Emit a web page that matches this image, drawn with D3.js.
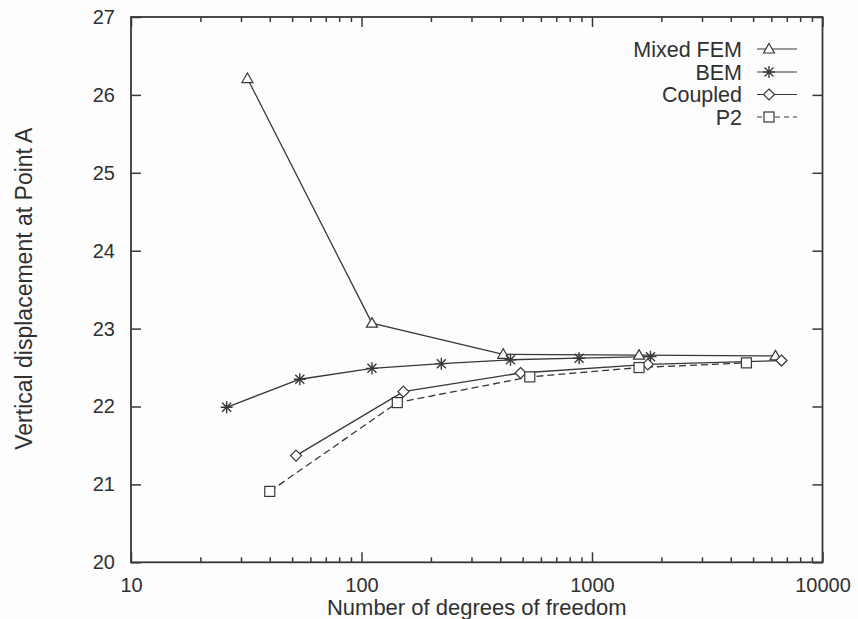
<!DOCTYPE html>
<html>
<head>
<meta charset="utf-8">
<script src="https://cdn.jsdelivr.net/npm/d3@7"></script>
<style>
  html, body { margin: 0; padding: 0; background: #fdfdfd; }
  svg { display: block; }
  text { font-family: "Liberation Sans", Arial, Helvetica, sans-serif; fill: #303030; }
</style>
</head>
<body>
<svg id="chart" width="858" height="619"></svg>
<script>
// ---- data ----
const seriesNames = ["Mixed FEM", "BEM", "Coupled", "P2"];
const mixedFemX = [32, 111, 412, 1600, 6250];
const mixedFemY = [26.21, 23.07, 22.67, 22.66, 22.65];
const bemX = [26, 54, 111, 222, 443, 879, 1794];
const bemY = [21.99, 22.35, 22.49, 22.55, 22.60, 22.62, 22.64];
const coupledX = [52, 152, 490, 1746, 6637];
const coupledY = [21.37, 22.19, 22.43, 22.54, 22.59];
const p2X = [40, 143, 537, 1600, 4677];
const p2Y = [20.91, 22.05, 22.38, 22.50, 22.56];
const xTickValues = [10, 100, 1000, 10000];
const yTickValues = [20, 21, 22, 23, 24, 25, 26, 27];
const xTitle = "Number of degrees of freedom";
const yTitle = "Vertical displacement at Point A";

// ---- layout ----
const svg = d3.select("#chart");
const mLeft = 131, mTop = 17, mRight = 822.5, mBottom = 562.3;
const ink = "#383838";

const x = d3.scaleLog().domain([10, 10000]).range([mLeft, mRight]);
const y = d3.scaleLinear().domain([20, 27]).range([mBottom, mTop]);

const series = [
  { name: seriesNames[0], xs: mixedFemX, ys: mixedFemY, marker: "triangle", dash: null },
  { name: seriesNames[1], xs: bemX, ys: bemY, marker: "star", dash: null },
  { name: seriesNames[2], xs: coupledX, ys: coupledY, marker: "diamond", dash: null },
  { name: seriesNames[3], xs: p2X, ys: p2Y, marker: "square", dash: "7,4" }
];

// minor ticks
const minorX = [];
for (let d = 10; d < 10000; d *= 10) for (let k = 2; k <= 9; k++) minorX.push(d * k);

// axes (ticks inward)
const axB = d3.axisBottom(x).tickValues(xTickValues).tickFormat(d3.format("d")).tickSizeInner(-10).tickSizeOuter(0).tickPadding(15.5);
const axT = d3.axisTop(x).tickValues(xTickValues).tickFormat("").tickSizeInner(-10).tickSizeOuter(0);
const axBm = d3.axisBottom(x).tickValues(minorX).tickFormat("").tickSizeInner(-5).tickSizeOuter(0);
const axTm = d3.axisTop(x).tickValues(minorX).tickFormat("").tickSizeInner(-5).tickSizeOuter(0);
const axL = d3.axisLeft(y).tickValues(yTickValues).tickFormat(d3.format("d")).tickSizeInner(-10).tickSizeOuter(0).tickPadding(16);
const axR = d3.axisRight(y).tickValues(yTickValues).tickFormat("").tickSizeInner(-10).tickSizeOuter(0);

function styleAxis(g) {
  g.select(".domain").remove();
  g.selectAll("line").attr("stroke", ink).attr("stroke-width", 1.5);
  g.selectAll("text").attr("font-size", 20).attr("fill", "#303030")
    .style("font-family", '"Liberation Sans", Arial, sans-serif');
}
svg.append("g").attr("transform", `translate(0,${mBottom})`).call(axB).call(styleAxis);
svg.append("g").attr("transform", `translate(0,${mTop})`).call(axT).call(styleAxis);
svg.append("g").attr("transform", `translate(0,${mBottom})`).call(axBm).call(styleAxis);
svg.append("g").attr("transform", `translate(0,${mTop})`).call(axTm).call(styleAxis);
svg.append("g").attr("transform", `translate(${mLeft},0)`).call(axL).call(styleAxis);
svg.append("g").attr("transform", `translate(${mRight},0)`).call(axR).call(styleAxis);

// frame
svg.append("rect").attr("x", mLeft).attr("y", mTop).attr("width", mRight - mLeft).attr("height", mBottom - mTop)
  .attr("fill", "none").attr("stroke", ink).attr("stroke-width", 1.8);

// titles
svg.append("text").attr("x", (mLeft + mRight) / 2).attr("y", 614.5).attr("text-anchor", "middle")
  .attr("font-size", 22).text(xTitle);
svg.append("text").attr("transform", `translate(32,${(mTop + mBottom) / 2 - 1}) rotate(-90)`)
  .attr("text-anchor", "middle").attr("font-size", 23).text(yTitle);

// markers
function drawMarker(g, type, cx, cy) {
  const s = 5.5;
  let el;
  if (type === "triangle") {
    el = g.append("path").attr("d", `M${cx},${cy - 5.5}L${cx + 5.5},${cy + 4}L${cx - 5.5},${cy + 4}Z`);
  } else if (type === "diamond") {
    el = g.append("path").attr("d", `M${cx},${cy - s}L${cx + s},${cy}L${cx},${cy + s}L${cx - s},${cy}Z`);
  } else if (type === "square") {
    el = g.append("rect").attr("x", cx - 5).attr("y", cy - 5).attr("width", 10).attr("height", 10);
  } else {
    const r = 6, q = 4.5;
    el = g.append("path").attr("d",
      `M${cx - r},${cy}L${cx + r},${cy}M${cx},${cy - r}L${cx},${cy + r}` +
      `M${cx - q},${cy - q}L${cx + q},${cy + q}M${cx - q},${cy + q}L${cx + q},${cy - q}`);
  }
  el.attr("fill", type === "star" ? "none" : "#fdfdfd").attr("stroke", ink)
    .attr("stroke-width", type === "star" ? 1.4 : 1.2);
}

const line = d3.line().x(d => x(d[0])).y(d => y(d[1]));
series.forEach(s => {
  const pts = s.xs.map((v, i) => [v, s.ys[i]]);
  svg.append("path").datum(pts).attr("d", line).attr("fill", "none").attr("stroke", ink)
    .attr("stroke-width", 1.3).attr("stroke-dasharray", s.dash);
});
series.forEach(s => {
  const g = svg.append("g");
  s.xs.forEach((v, i) => drawMarker(g, s.marker, x(v), y(s.ys[i])));
});

// legend
const legendY = [49, 72, 94.5, 117];
series.forEach((s, i) => {
  const ly = legendY[i];
  svg.append("text").attr("x", 742).attr("y", ly).attr("dy", "0.35em").attr("text-anchor", "end")
    .attr("font-size", 21.5).text(s.name);
  svg.append("line").attr("x1", 757).attr("x2", 797).attr("y1", ly).attr("y2", ly)
    .attr("stroke", ink).attr("stroke-width", 1.2).attr("stroke-dasharray", s.dash ? "5,4" : null);
  drawMarker(svg.append("g"), s.marker, 769, ly);
});
</script>
</body>
</html>
